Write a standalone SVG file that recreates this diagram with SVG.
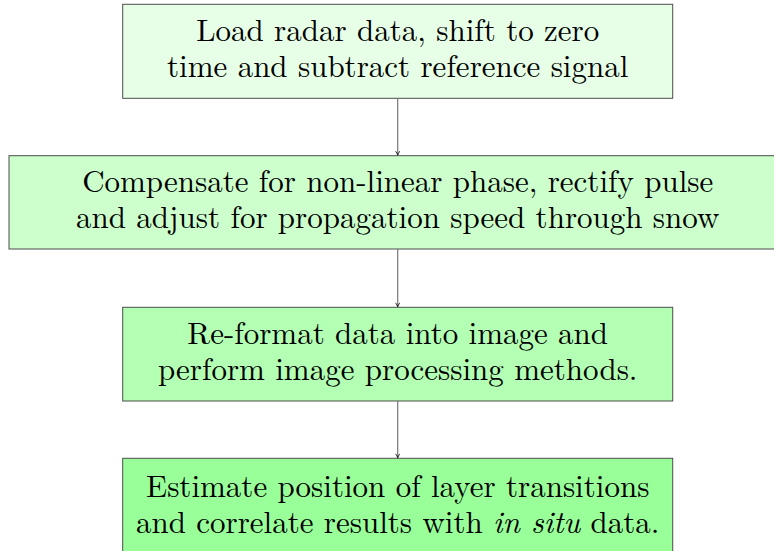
<svg xmlns="http://www.w3.org/2000/svg" width="774" height="551" viewBox="0 0 774 551">
<defs>
<style>
.box{stroke:#4d4d4d;stroke-width:1}
.c{stroke:#777;stroke-width:1.2;fill:none}
</style>
<marker id="ah" viewBox="0 0 10 10" refX="9" refY="5" markerWidth="5" markerHeight="5" orient="auto" markerUnits="userSpaceOnUse">
<path d="M1,1 Q6,4 9,5 Q6,6 1,9" fill="none" stroke="#000" stroke-width="1.6"/>
</marker>
</defs>
<rect width="774" height="551" fill="#fff"/>
<g font-family="'Latin Modern Roman','Liberation Serif',serif" font-size="31" text-anchor="middle" fill="#000">
<g id="n1">
<rect class="box" x="122.7" y="4.3" width="550" height="94" fill="#e6ffe6"/>
<text x="397.7" y="40.7">Load radar data, shift to zero<tspan x="397.7" y="76.7">time and subtract reference signal</tspan></text>
</g>
<g id="n2">
<rect class="box" x="9" y="155.7" width="777" height="93.3" fill="#ccffcc"/>
<text x="397.7" y="191.8">Compensate for non-linear phase, rectify pulse<tspan x="397.7" y="227.8">and adjust for propagation speed through snow</tspan></text>
</g>
<g id="n3">
<rect class="box" x="122.7" y="307.3" width="550" height="93.7" fill="#b3ffb3"/>
<text x="397.7" y="343.5">Re-format data into image and<tspan x="397.7" y="379.5">perform image processing methods.</tspan></text>
</g>
<g id="n4">
<rect class="box" x="122.7" y="458.3" width="550" height="100" fill="#99ff99"/>
<text x="397.7" y="496.7">Estimate position of layer transitions<tspan x="397.7" y="532.9">and correlate results with <tspan font-style="italic">in situ</tspan> data.</tspan></text>
</g>
</g>
<g id="connectors">
<line class="c" x1="397.7" y1="98.3" x2="397.7" y2="155.2" marker-end="url(#ah)"/>
<line class="c" x1="397.7" y1="249" x2="397.7" y2="306.8" marker-end="url(#ah)"/>
<line class="c" x1="397.7" y1="401" x2="397.7" y2="457.8" marker-end="url(#ah)"/>
</g>
</svg>
